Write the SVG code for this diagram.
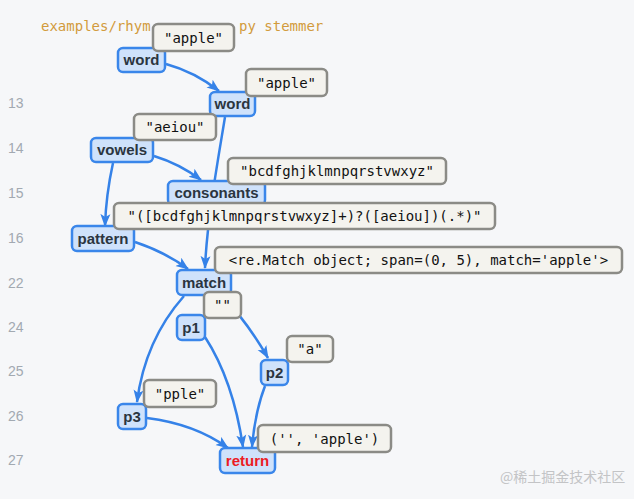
<svg xmlns="http://www.w3.org/2000/svg" width="634" height="499" viewBox="0 0 634 499">
<style>
.bg{fill:#f6f7f9}
.hdr{font-family:"DejaVu Sans Mono","Liberation Mono",monospace;font-size:14px;fill:#d29b3c}
.ln{font-family:"Liberation Sans",Arial,sans-serif;font-size:14px;fill:#a2a9b1}
.node rect{fill:#cfe2fb;stroke:#3a86ea;stroke-width:2.5}
.node text{font-family:"Liberation Sans",Arial,sans-serif;font-size:15px;font-weight:bold;fill:#2b3540;text-anchor:middle}
.node text.ret{fill:#ec1c24}
.lbl rect{fill:#f4f3ee;stroke:#8b8b86;stroke-width:2.5}
.lbl text{font-family:"DejaVu Sans Mono","Liberation Mono",monospace;font-size:14px;fill:#111;text-anchor:middle}
.edge{fill:none;stroke:#3582e8;stroke-width:2.5;marker-end:url(#ah)}
.wm{font-family:"Noto Sans CJK SC","Liberation Sans",sans-serif;font-size:14px;fill:#c3c4c6}
</style>
<defs>
<marker id="ah" markerUnits="userSpaceOnUse" markerWidth="14" markerHeight="12" refX="12" refY="5" orient="auto" viewBox="0 0 14 10">
<path d="M0,0 L13,5 L0,10 L3,5 Z" fill="#3582e8"/>
</marker>
</defs>
<rect class="bg" x="0" y="0" width="634" height="499"/>
<text class="hdr" x="41" y="31">examples/rhym</text>
<text class="hdr" x="239" y="31">py stemmer</text>
<g id="linenumbers">
<text class="ln" x="8" y="108">13</text>
<text class="ln" x="8" y="153">14</text>
<text class="ln" x="8" y="198">15</text>
<text class="ln" x="8" y="243">16</text>
<text class="ln" x="8" y="288">22</text>
<text class="ln" x="8" y="332">24</text>
<text class="ln" x="8" y="376">25</text>
<text class="ln" x="8" y="421">26</text>
<text class="ln" x="8" y="465">27</text>
</g>
<g id="connectors">
<path class="edge" d="M166,64 Q195,72 219,91"/>
<path class="edge" d="M225,117 C218,160 207,220 205,268"/>
<path class="edge" d="M154,156 Q180,164 201,180"/>
<path class="edge" d="M113,163 Q106,195 105,226"/>
<path class="edge" d="M135,242 Q165,252 188,269"/>
<path class="edge" d="M222,296 Q246,320 268,358"/>
<path class="edge" d="M184,296 Q145,340 137,402"/>
<path class="edge" d="M205,337 Q233,380 243,447"/>
<path class="edge" d="M265,386 Q255,412 252,447"/>
<path class="edge" d="M147,418 Q195,424 228,448"/>
</g>
<g id="n_word1" class="node"><rect x="118" y="48" width="47" height="24" rx="5"/><text x="141.5" y="65">word</text></g>
<g id="n_word2" class="node"><rect x="210" y="92" width="45" height="24" rx="5"/><text x="232.5" y="109">word</text></g>
<g id="n_vowels" class="node"><rect x="91" y="138" width="62" height="24" rx="5"/><text x="122" y="155">vowels</text></g>
<g id="n_consonants" class="node"><rect x="168" y="181" width="97" height="24" rx="5"/><text x="216.5" y="198">consonants</text></g>
<g id="n_pattern" class="node"><rect x="72" y="226" width="62" height="25" rx="5"/><text x="103" y="243.5">pattern</text></g>
<g id="n_match" class="node"><rect x="177" y="270" width="54" height="25" rx="5"/><text x="204" y="287.5">match</text></g>
<g id="n_p1" class="node"><rect x="177" y="315" width="28" height="25" rx="5"/><text x="191" y="332.5">p1</text></g>
<g id="n_p2" class="node"><rect x="261" y="360" width="27" height="25" rx="5"/><text x="274.5" y="377.5">p2</text></g>
<g id="n_p3" class="node"><rect x="118" y="404" width="28" height="25" rx="5"/><text x="132" y="421.5">p3</text></g>
<g id="n_return" class="node"><rect x="220" y="448" width="55" height="25" rx="5"/><text class="ret" x="247.5" y="465.5">return</text></g>
<g id="v_word1" class="lbl"><rect x="153" y="24" width="81" height="27" rx="5"/><text x="193.5" y="42.5">"apple"</text></g>
<g id="v_word2" class="lbl"><rect x="246" y="69" width="81" height="27" rx="5"/><text x="286.5" y="87.5">"apple"</text></g>
<g id="v_vowels" class="lbl"><rect x="134" y="114" width="82" height="26" rx="5"/><text x="175" y="132">"aeiou"</text></g>
<g id="v_consonants" class="lbl"><rect x="228" y="158" width="218" height="26" rx="5"/><text x="337" y="176">"bcdfghjklmnpqrstvwxyz"</text></g>
<g id="v_pattern" class="lbl"><rect x="114" y="203" width="381" height="26" rx="5"/><text x="304.5" y="221">"([bcdfghjklmnpqrstvwxyz]+)?([aeiou])(.*)"</text></g>
<g id="v_match" class="lbl"><rect x="215" y="247" width="407" height="26" rx="5"/><text x="418.5" y="265">&lt;re.Match object; span=(0, 5), match='apple'&gt;</text></g>
<g id="v_p1" class="lbl"><rect x="204" y="292" width="37" height="26" rx="5"/><text x="222.5" y="310">""</text></g>
<g id="v_p2" class="lbl"><rect x="287" y="336" width="46" height="26" rx="5"/><text x="310" y="354">"a"</text></g>
<g id="v_p3" class="lbl"><rect x="144" y="380" width="72" height="27" rx="5"/><text x="180" y="398.5">"pple"</text></g>
<g id="v_return" class="lbl"><rect x="258" y="425" width="133" height="27" rx="5"/><text x="324.5" y="443.5">('', 'apple')</text></g>
<text class="wm" x="500" y="482">@稀土掘金技术社区</text>
</svg>
